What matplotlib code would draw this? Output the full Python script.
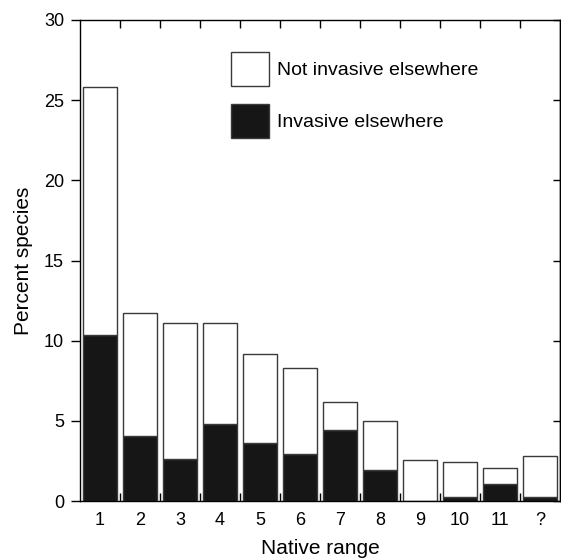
import matplotlib
matplotlib.use("Agg")
import matplotlib.pyplot as plt
from matplotlib.patches import Patch
from matplotlib.ticker import FixedLocator
import numpy as np

plt.rcParams['font.family'] = ['Liberation Sans', 'DejaVu Sans']

categories = ["1", "2", "3", "4", "5", "6", "7", "8", "9", "10", "11", "?"]
invasive = [10.36, 4.05, 2.62, 4.80, 3.62, 2.95, 4.45, 1.95, 0.0, 0.27, 1.06, 0.27]
not_invasive = [15.44, 7.70, 8.46, 6.28, 5.53, 5.37, 1.71, 3.04, 2.58, 2.14, 1.02, 2.56]
yticks = [0, 5, 10, 15, 20, 25, 30]

fig = plt.figure(figsize=(5.61, 5.58), dpi=100)
ax = fig.add_axes([80/561, 1-501/558, 480/561, 481/558])

x = np.arange(len(categories))
edge = "#3a3a3a"
ax.bar(x, invasive, width=0.83, color="#161616", edgecolor=edge, linewidth=1.0,
       label="Invasive elsewhere")
ax.bar(x, not_invasive, width=0.83, bottom=invasive, color="white", edgecolor=edge,
       linewidth=1.0, label="Not invasive elsewhere")

ax.set_xlim(-0.5, len(categories) - 0.5)
ax.set_ylim(0, 30)
ax.set_yticks(yticks)
ax.set_xticks(x)
ax.set_xticklabels(categories)
ax.xaxis.set_minor_locator(FixedLocator(np.arange(0.5, len(categories) - 0.5, 1.0)))

ax.tick_params(axis='x', which='major', length=0, pad=8, labelsize=13)
ax.tick_params(axis='x', which='minor', direction='in', length=5.5, width=1,
               top=True, bottom=True)
ax.tick_params(axis='y', which='major', direction='out', length=6.5, width=1,
               pad=5, labelsize=13)

sec = ax.secondary_yaxis('right')
sec.set_yticks(yticks)
sec.tick_params(direction='in', length=5, width=1, labelright=False)
sec.spines['right'].set_linewidth(1)

for s in ax.spines.values():
    s.set_linewidth(1)

ax.set_xlabel("Native range", fontsize=15, labelpad=7)
ax.set_ylabel("Percent species", fontsize=15, labelpad=8)

handles = [Patch(facecolor="white", edgecolor=edge, linewidth=1.0, label="Not invasive elsewhere"),
           Patch(facecolor="#161616", edgecolor=edge, linewidth=1.0, label="Invasive elsewhere")]
ax.legend(handles=handles, loc='upper left', bbox_to_anchor=(0.314, 0.934),
          frameon=False, fontsize=14, handlelength=1.96, handleheight=2.31,
          handletextpad=0.4, labelspacing=0.93, borderpad=0, borderaxespad=0)

fig.savefig("out.png", dpi=100)
